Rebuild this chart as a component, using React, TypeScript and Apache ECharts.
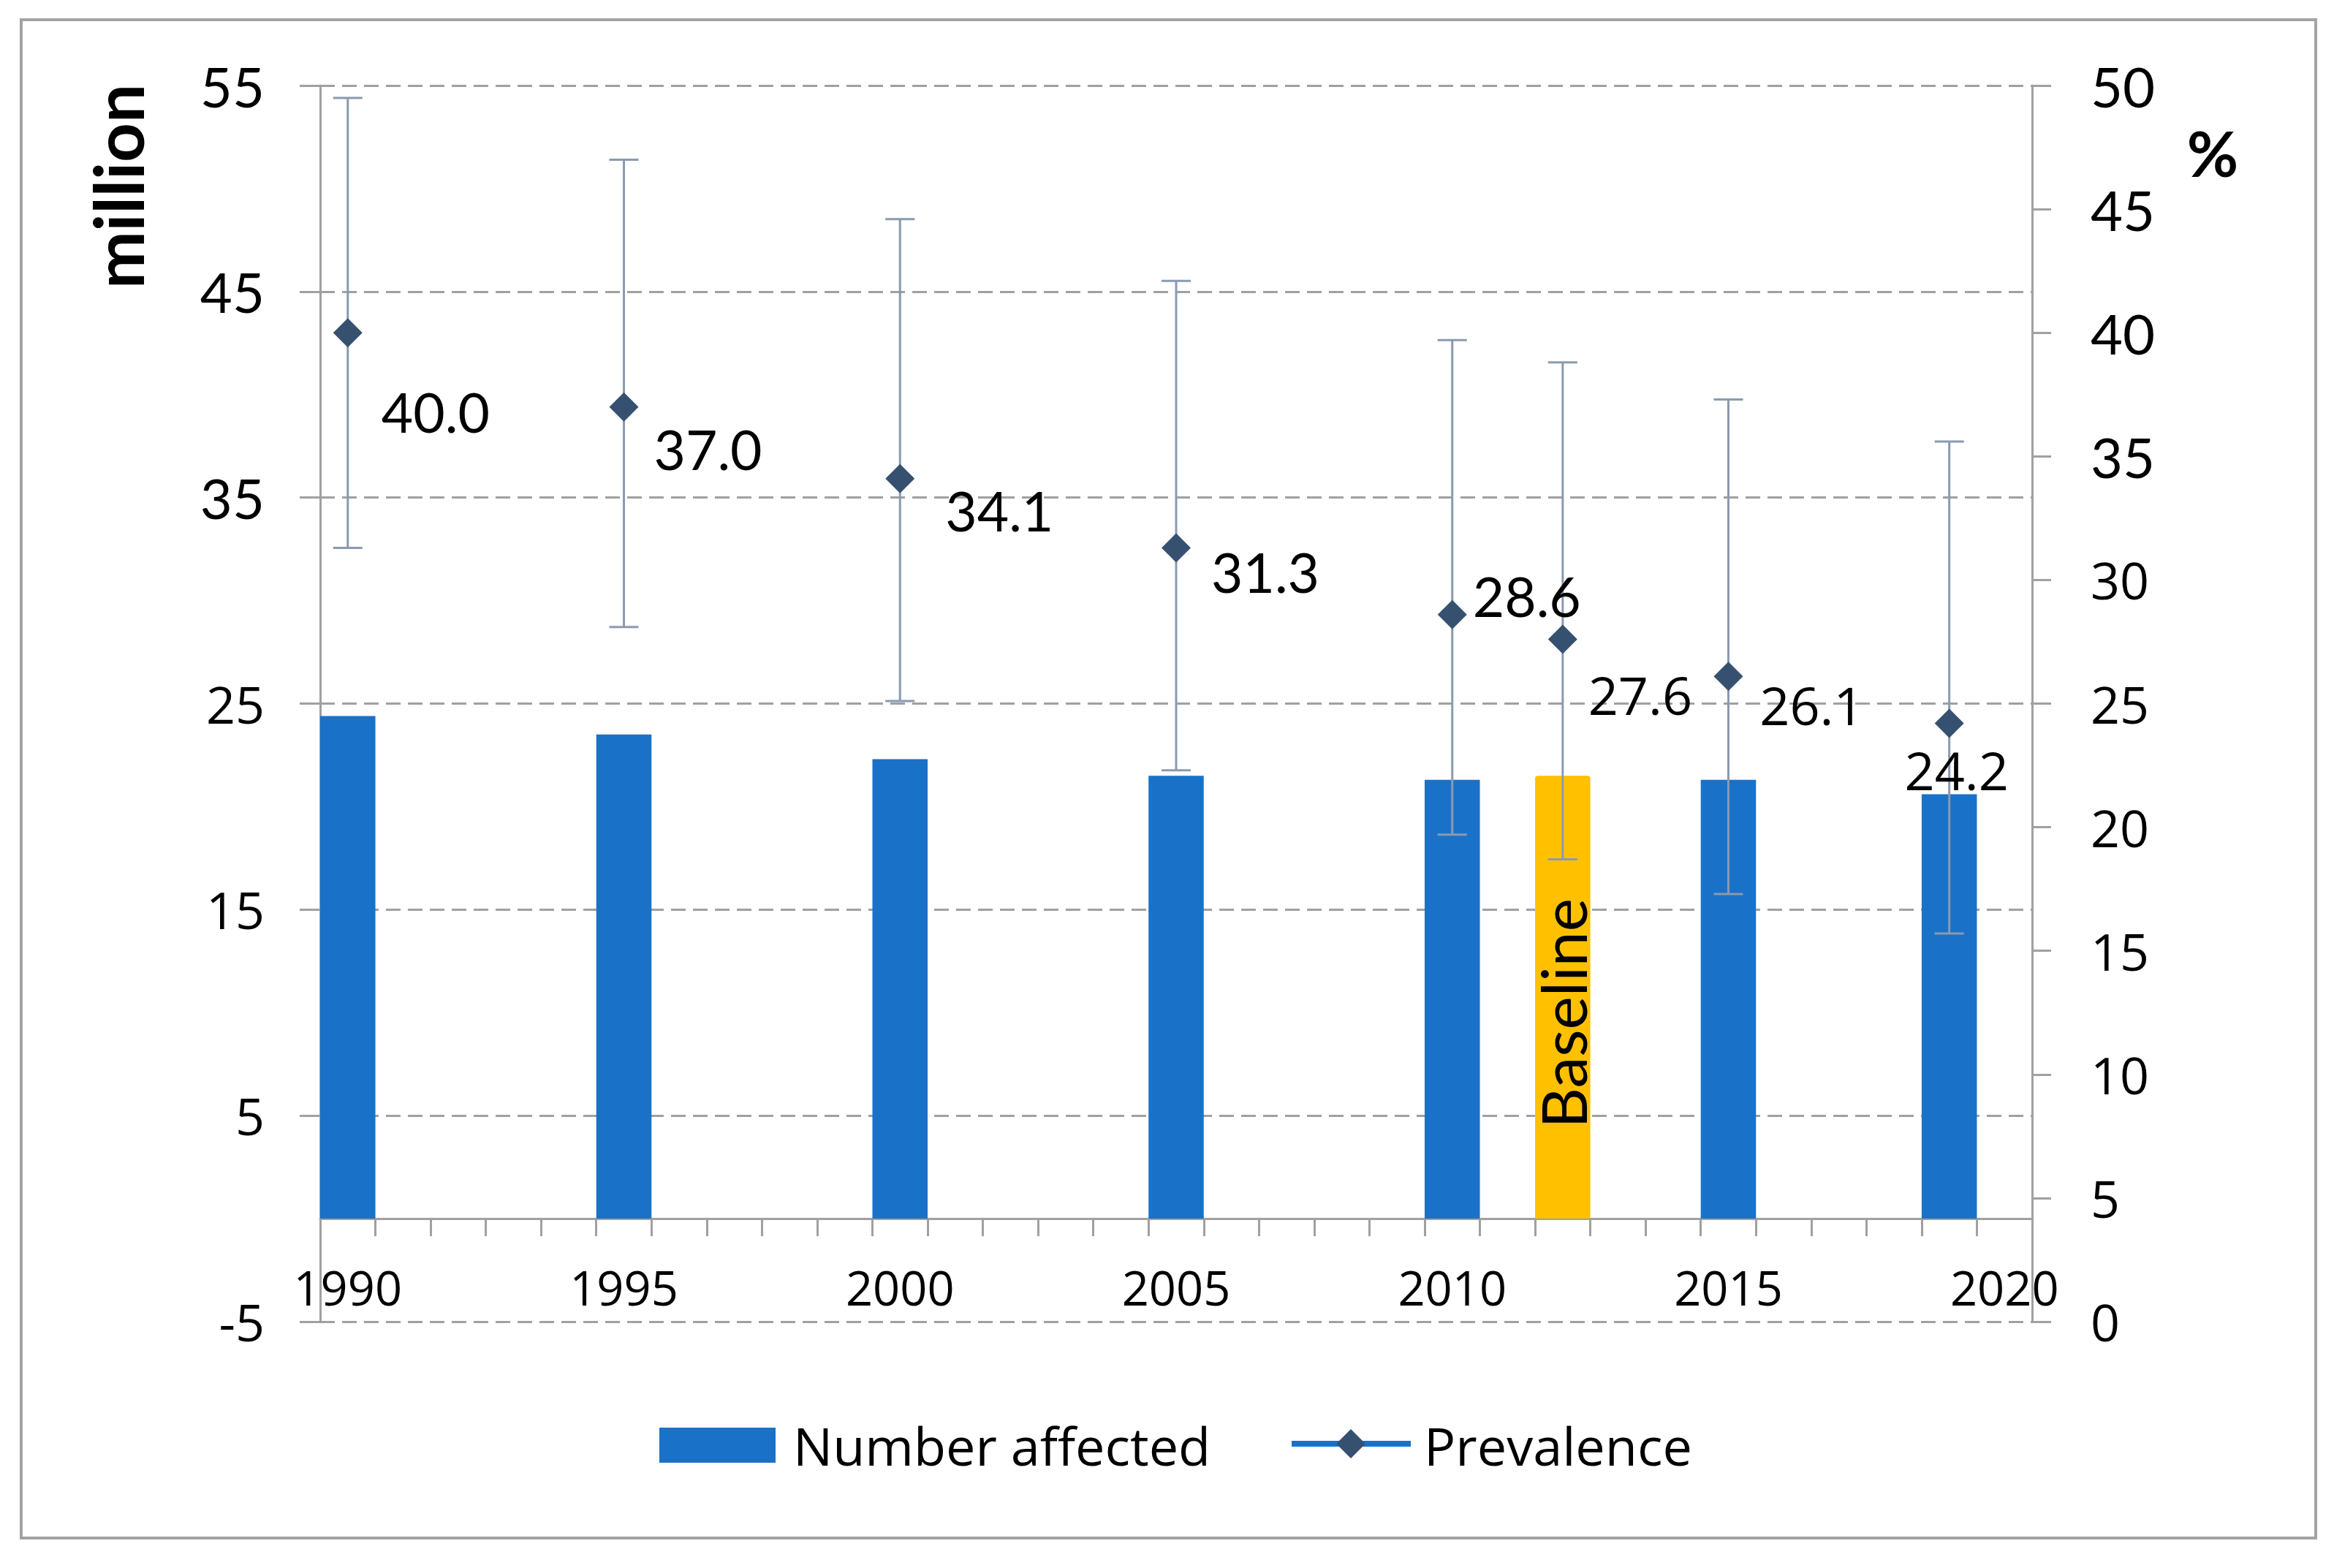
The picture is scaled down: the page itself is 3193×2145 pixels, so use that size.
import React, { useEffect, useRef } from "react";
import * as echarts from "echarts";

// ---- data ----
const years = [
  "1990", "1991", "1992", "1993", "1994", "1995", "1996", "1997", "1998", "1999",
  "2000", "2001", "2002", "2003", "2004", "2005", "2006", "2007", "2008", "2009",
  "2010", "2011", "2012", "2013", "2014", "2015", "2016", "2017", "2018", "2019", "2020",
];
const pointYears = ["1990", "1995", "2000", "2005", "2010", "2012", "2015", "2019"];
const numberAffected = [24.4, 23.5, 22.3, 21.5, 21.3, 21.5, 21.3, 20.6];
const prevalence = [40.0, 37.0, 34.1, 31.3, 28.6, 27.6, 26.1, 24.2];
const prevalenceLow = [31.3, 28.1, 25.1, 22.3, 19.7, 18.7, 17.3, 15.7];
const prevalenceHigh = [49.5, 47.0, 44.6, 42.1, 39.7, 38.8, 37.3, 35.6];
const baselineYear = "2012";
const leftTicks = { min: -5, max: 55, interval: 10 };
const rightTicks = { min: 0, max: 50, interval: 5 };
const narrowLeftLabels = [55, 45, 35];
const narrowRightLabels = [50, 45, 40, 35];

// ---- layout / style (not data) ----
const labelOffsets: [number, number][] = [
  [120, 108], [115, 57], [136, 43], [122, 33], [102, -26], [106, 75], [114, 39], [10, 63],
];
const labelNarrow = [true, true, true, true, true, false, false, false];

const BLUE = "#1a72c8";
const ORANGE = "#ffc000";
const DARK = "#365170";
const ERR = "#8a9ab0";
const GRID = "#a0a0a0";
const AXIS = "#a0a0a0";
const TXT = "#000000";
const NARROW = "Lato";
const WIDE = "'Open Sans'";

export default function App() {
  const ref = useRef<HTMLDivElement>(null);
  useEffect(() => {
    if (!ref.current) return;
    const chart = echarts.init(ref.current, undefined, { renderer: "svg" });

    const richAxis = {
      n: { fontFamily: NARROW, fontSize: 76, color: TXT },
      w: { fontFamily: WIDE, fontSize: 70, color: TXT },
    };

    const option: any = {
      animation: false,
      backgroundColor: "#ffffff",
      grid: { left: 438, right: 413, top: 117, bottom: 337, containLabel: false },
      xAxis: {
        type: "category",
        data: years,
        boundaryGap: true,
        axisLine: { show: true, onZero: true, lineStyle: { color: AXIS, width: 3 } },
        axisTick: { show: true, interval: 0, length: 24, inside: false, lineStyle: { color: AXIS, width: 3 } },
        axisLabel: {
          interval: 4,
          margin: -80,
          fontFamily: WIDE,
          fontSize: 65,
          color: TXT,
        },
        splitLine: { show: false },
      },
      yAxis: [
        {
          type: "value",
          min: leftTicks.min,
          max: leftTicks.max,
          interval: leftTicks.interval,
          position: "left",
          axisLine: { show: true, onZero: false, lineStyle: { color: AXIS, width: 3 } },
          axisTick: { show: true, length: 28, lineStyle: { color: AXIS, width: 3 } },
          axisLabel: {
            margin: 76,
            formatter: (v: number) => (narrowLeftLabels.includes(v) ? `{n|${v}}` : `{w|${v}}`),
            rich: richAxis,
          },
          splitLine: { show: true, lineStyle: { color: GRID, width: 3, type: [20, 10] } },
        },
        {
          type: "value",
          min: rightTicks.min,
          max: rightTicks.max,
          interval: rightTicks.interval,
          position: "right",
          axisLine: { show: true, onZero: false, lineStyle: { color: AXIS, width: 3 } },
          axisTick: { show: true, length: 26, lineStyle: { color: AXIS, width: 3 } },
          axisLabel: {
            margin: 80,
            formatter: (v: number) => (narrowRightLabels.includes(v) ? `{n|${v}}` : `{w|${v}}`),
            rich: richAxis,
          },
          splitLine: { show: false },
        },
      ],
      series: [
        {
          name: "Number affected",
          type: "bar",
          yAxisIndex: 0,
          barCategoryGap: "0%",
          z: 2,
          data: pointYears.map((y, i) => {
            const isBase = y === baselineYear;
            return {
              value: [y, numberAffected[i]],
              itemStyle: isBase
                ? { color: ORANGE, borderRadius: [4, 4, 0, 0] }
                : { color: BLUE },
              label: isBase
                ? {
                    show: true,
                    position: "inside",
                    rotate: 90,
                    offset: [-22, 0],
                    formatter: "Baseline",
                    fontFamily: NARROW,
                    fontSize: 86,
                    color: TXT,
                  }
                : { show: false },
            };
          }),
        },
        {
          name: "Prevalence CI",
          type: "custom",
          yAxisIndex: 1,
          z: 3,
          encode: { x: 0, y: [1, 2] },
          data: pointYears.map((y, i) => [y, prevalenceLow[i], prevalenceHigh[i]]),
          renderItem: (params: any, api: any) => {
            const xi = api.value(0);
            const lo = api.coord([xi, api.value(1)]);
            const hi = api.coord([xi, api.value(2)]);
            const cap = 20;
            const st = { stroke: ERR, lineWidth: 3 };
            return {
              type: "group",
              children: [
                { type: "line", shape: { x1: lo[0], y1: lo[1], x2: hi[0], y2: hi[1] }, style: st },
                { type: "line", shape: { x1: lo[0] - cap, y1: lo[1], x2: lo[0] + cap, y2: lo[1] }, style: st },
                { type: "line", shape: { x1: hi[0] - cap, y1: hi[1], x2: hi[0] + cap, y2: hi[1] }, style: st },
              ],
            };
          },
        },
        {
          name: "Prevalence",
          type: "scatter",
          yAxisIndex: 1,
          z: 4,
          symbol: "diamond",
          symbolSize: 40,
          itemStyle: { color: DARK, opacity: 1 },
          data: pointYears.map((y, i) => ({
            value: [y, prevalence[i]],
            label: {
              show: true,
              position: "inside",
              offset: labelOffsets[i],
              formatter: (p: any) => Number(p.value[1]).toFixed(1),
              fontFamily: labelNarrow[i] ? NARROW : WIDE,
              fontSize: labelNarrow[i] ? 75 : 72,
              color: TXT,
            },
          })),
        },
      ],
      graphic: [
        {
          type: "rect",
          shape: { x: 29, y: 27, width: 3139, height: 2077 },
          style: { fill: "none", stroke: "#a3a3a3", lineWidth: 4 },
          z: 0,
        },
        {
          type: "text",
          x: 160,
          y: 255,
          rotation: Math.PI / 2,
          style: {
            text: "million",
            font: "bold 94px Lato",
            fill: TXT,
            align: "center",
            verticalAlign: "middle",
            textAlign: "center",
            textVerticalAlign: "middle",
          },
        },
        {
          type: "text",
          x: 3027,
          y: 208,
          style: {
            text: "%",
            font: "bold 86px Lato",
            fill: TXT,
            align: "center",
            verticalAlign: "middle",
            textAlign: "center",
            textVerticalAlign: "middle",
          },
        },
        // legend
        {
          type: "rect",
          shape: { x: 902, y: 1953, width: 159, height: 48 },
          style: { fill: BLUE },
        },
        {
          type: "text",
          x: 1085,
          y: 1977,
          style: {
            text: "Number affected",
            font: "72px 'Open Sans'",
            fill: TXT,
            align: "left",
            verticalAlign: "middle",
            textAlign: "left",
            textVerticalAlign: "middle",
          },
        },
        {
          type: "line",
          shape: { x1: 1767, y1: 1975, x2: 1930, y2: 1975 },
          style: { stroke: BLUE, lineWidth: 8 },
        },
        {
          type: "polygon",
          shape: { points: [[1848, 1955], [1868, 1975], [1848, 1995], [1828, 1975]] },
          style: { fill: DARK },
        },
        {
          type: "text",
          x: 1948,
          y: 1977,
          style: {
            text: "Prevalence",
            font: "72px 'Open Sans'",
            fill: TXT,
            align: "left",
            verticalAlign: "middle",
            textAlign: "left",
            textVerticalAlign: "middle",
          },
        },
      ],
    };

    chart.setOption(option);
    return () => chart.dispose();
  }, []);

  return (
    <div
      ref={ref}
      style={{ position: "fixed", left: 0, top: 0, width: 3193, height: 2145, background: "#fff" }}
    />
  );
}
